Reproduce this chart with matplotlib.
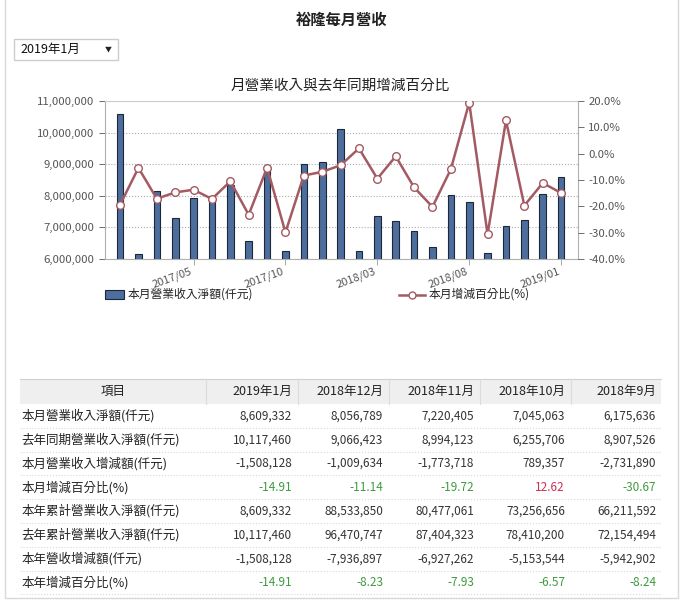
"""裕隆每月營收：柱狀 + 折線雙軸圖，下方附數據表。"""
import matplotlib
matplotlib.use('Agg')
import matplotlib.pyplot as plt
from matplotlib.patches import Rectangle
from matplotlib.ticker import FuncFormatter

plt.rcParams['font.family'] = ['Noto Sans CJK TC', 'DejaVu Sans']
plt.rcParams['axes.unicode_minus'] = False

# ── 圖表數據（2017/01 ~ 2019/01）──
months = ['2017/01', '2017/02', '2017/03', '2017/04', '2017/05', '2017/06', '2017/07',
          '2017/08', '2017/09', '2017/10', '2017/11', '2017/12', '2018/01', '2018/02',
          '2018/03', '2018/04', '2018/05', '2018/06', '2018/07', '2018/08', '2018/09',
          '2018/10', '2018/11', '2018/12', '2019/01']
revenue = [10580000, 6150000, 8140000, 7290000, 7920000, 7980000, 8350000,
           6560000, 8907526, 6255706, 8994123, 9066423, 10117460, 6250000,
           7360000, 7200000, 6890000, 6380000, 8030000, 7800000, 6175636,
           7045063, 7220405, 8056789, 8609332]
yoy_pct = [-19.4, -5.4, -17.1, -14.7, -13.7, -17.2, -10.5, -23.2, -5.3, -29.9,
           -8.3, -6.9, -4.4, 2.0, -9.5, -1.0, -12.8, -20.2, -5.9, 19.4,
           -30.67, 12.62, -19.72, -11.14, -14.91]
label_months = ['2017/05', '2017/10', '2018/03', '2018/08', '2019/01']

# ── 表格數據 ──
table_cols = ['2019年1月', '2018年12月', '2018年11月', '2018年10月', '2018年9月']
row_names = ['本月營業收入淨額(仟元)', '去年同期營業收入淨額(仟元)', '本月營業收入增減額(仟元)',
             '本月增減百分比(%)', '本年累計營業收入淨額(仟元)', '去年累計營業收入淨額(仟元)',
             '本年營收增減額(仟元)', '本年增減百分比(%)']
row_month_rev = [8609332, 8056789, 7220405, 7045063, 6175636]
row_last_rev = [10117460, 9066423, 8994123, 6255706, 8907526]
row_month_diff = [-1508128, -1009634, -1773718, 789357, -2731890]
row_month_pct = [-14.91, -11.14, -19.72, 12.62, -30.67]
row_ytd_rev = [8609332, 88533850, 80477061, 73256656, 66211592]
row_ytd_last = [10117460, 96470747, 87404323, 78410200, 72154494]
row_ytd_diff = [-1508128, -7936897, -6927262, -5153544, -5942902]
row_ytd_pct = [-14.91, -8.23, -7.93, -6.57, -8.24]

BAR = '#4d6d9c'
LINE = '#a35a62'
GRAY = '#555555'
W, H = 684, 606

fig = plt.figure(figsize=(W / 100, H / 100), dpi=100)
fig.patch.set_facecolor('white')

# 全圖像素座標的底層軸（畫標題、下拉框、圖例、表格）
bg = fig.add_axes([0, 0, 1, 1])
bg.set_xlim(0, W)
bg.set_ylim(H, 0)
bg.axis('off')

bg.add_patch(Rectangle((5, -5), 673, 603, fill=False, edgecolor='#d8d8d8', lw=1))
bg.text(342, 20, '裕隆每月營收', ha='center', va='center', fontsize=11,
        fontweight='bold', color='#222222')
bg.add_patch(Rectangle((14, 39), 104, 21, facecolor='white', edgecolor='#cccccc', lw=1))
bg.text(20, 49.5, '2019年1月', ha='left', va='center', fontsize=9, color='#111111')
bg.text(108, 50, '▼', ha='center', va='center', fontsize=5, color='#222222')
bg.text(340, 86, '月營業收入與去年同期增減百分比', ha='center', va='center',
        fontsize=10.5, color='#222222')

# ── 主圖 ──
x = list(range(len(months)))
ax = fig.add_axes([105 / W, 1 - 259 / H, 473 / W, 158 / H])
ax.bar(x, revenue, width=0.36, color=BAR, edgecolor='#1c2838', lw=0.8, zorder=3)
ax.set_xlim(-0.82, 24.92)
ax.set_ylim(6000000, 11000000)
ax.set_yticks(range(6000000, 11000001, 1000000))
ax.yaxis.set_major_formatter(FuncFormatter(lambda v, p: f'{v:,.0f}'))
ax.grid(axis='y', linestyle=':', color='#aaaaaa', lw=0.8, zorder=0)
ax.set_xticks([months.index(m) for m in label_months])
ax.set_xticklabels(label_months, rotation=20, ha='right', fontsize=8, color=GRAY)
ax.tick_params(axis='y', labelsize=8.2, colors=GRAY, length=4, width=0.6)
ax.tick_params(axis='x', length=4, width=0.6, colors='#999999', pad=1)
for lbl in ax.get_xticklabels():
    lbl.set_color(GRAY)
for lbl in ax.get_yticklabels():
    lbl.set_color(GRAY)
for s in ax.spines.values():
    s.set_color('#b0b0b0')
    s.set_linewidth(0.8)
ax.spines['top'].set_color('#cccccc')

ax2 = ax.twinx()
ax2.plot(x, yoy_pct, color=LINE, lw=1.8, marker='o', markersize=5.5,
         markerfacecolor='white', markeredgecolor=LINE, markeredgewidth=1, zorder=4)
ax2.set_ylim(-40, 20)
ax2.set_yticks(range(-40, 21, 10))
ax2.yaxis.set_major_formatter(FuncFormatter(lambda v, p: f'{v:.1f}%'))
ax2.tick_params(axis='y', labelsize=8.2, colors=GRAY, length=4, width=0.6)
for lbl in ax2.get_yticklabels():
    lbl.set_color(GRAY)
for s in ax2.spines.values():
    s.set_visible(False)

# ── 圖例 ──
bg.add_patch(Rectangle((105, 290), 19, 9, facecolor=BAR, edgecolor='#1c2838', lw=0.8))
bg.text(128, 294.5, '本月營業收入淨額(仟元)', ha='left', va='center', fontsize=8.5, color='#222222')
bg.plot([399, 425], [294.5, 294.5], color=LINE, lw=1.8)
bg.plot([412], [294.5], marker='o', markersize=5, markerfacecolor='white',
        markeredgecolor=LINE, markeredgewidth=1)
bg.text(429, 294.5, '本月增減百分比(%)', ha='left', va='center', fontsize=8.5, color='#222222')

# ── 表格 ──
col_right = [292, 383, 474, 565, 656]
col_edges = [20, 206, 298, 389, 480, 571, 661]
top, hdr_h, row_h = 379, 25, 23.8
bg.add_patch(Rectangle((20, top), 641, hdr_h, facecolor='#efefef', edgecolor='none'))
bg.plot([20, 661], [top, top], color='#d0d0d0', lw=0.8)
for e in col_edges[1:-1]:
    bg.plot([e, e], [top, top + hdr_h], color='#dcdcdc', lw=0.8)
bg.text(113, top + hdr_h / 2, '項目', ha='center', va='center', fontsize=9, color='#222222')
for xr, c in zip(col_right, table_cols):
    bg.text(xr, top + hdr_h / 2, c, ha='right', va='center', fontsize=9, color='#222222')

rows = [row_month_rev, row_last_rev, row_month_diff, row_month_pct,
        row_ytd_rev, row_ytd_last, row_ytd_diff, row_ytd_pct]
pct_rows = {3, 7}
for i, (name, vals) in enumerate(zip(row_names, rows)):
    yc = top + hdr_h + row_h * (i + 0.5)
    bg.text(21, yc, name, ha='left', va='center', fontsize=9, color='#222222')
    for xr, v in zip(col_right, vals):
        if i in pct_rows:
            txt = f'{v:.2f}'
            col = '#cc2f55' if v > 0 else '#3d9a3d'
        else:
            txt = f'{v:,}'
            col = '#333333'
        bg.text(xr, yc, txt, ha='right', va='center', fontsize=8.5, color=col)
    yl = top + hdr_h + row_h * (i + 1)
    bg.plot([20, 661], [yl, yl], color='#d8d8d8', lw=0.8, linestyle=':')

fig.savefig('out.png', dpi=100)
